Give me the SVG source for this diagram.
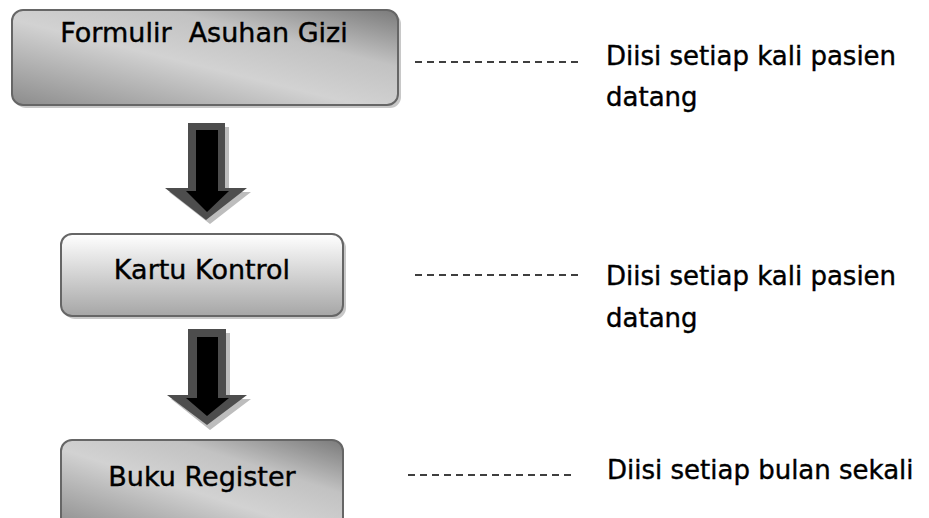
<svg xmlns="http://www.w3.org/2000/svg" width="929" height="518" viewBox="0 0 929 518">
<defs>
<linearGradient id="g1" x1="0" y1="1" x2="1" y2="0">
<stop offset="0" stop-color="#8c8c8c"/>
<stop offset="0.45" stop-color="#d2d2d2"/>
<stop offset="0.7" stop-color="#c2c2c2"/>
<stop offset="1" stop-color="#7a7a7a"/>
</linearGradient>
<linearGradient id="g2" x1="0" y1="0" x2="0" y2="1">
<stop offset="0" stop-color="#ffffff"/>
<stop offset="1" stop-color="#a6a6a6"/>
</linearGradient>
<style>
.box{stroke:#666;stroke-width:2}
.sh{fill:#c8c8c8}
.lbl{font-family:"DejaVu Sans","Noto Sans",sans-serif;font-size:27px;fill:#000;stroke:#000;stroke-width:0.4;text-anchor:middle}
.note{font-family:"DejaVu Sans","Noto Sans",sans-serif;font-size:26px;fill:#000;stroke:#000;stroke-width:0.4}
.dash{stroke:#000;stroke-width:1.3;stroke-dasharray:7 5;fill:none}
.arO{fill:#4d4d4d}
.arI{fill:#000}
.arS{fill:#bdbdbd}
</style>
</defs>
<g id="connectors">
<g id="arrow1">
<polygon class="arS" points="192,127 229,127 229,192 251,192 210,224 169,192 192,192"/>
<polygon class="arO" points="188,123 225,123 225,188 247,188 206,220 165,188 188,188"/>
<polygon class="arI" points="196,130 218,130 218,191 229,191 207,212 186,191 196,191"/>
</g>
<g id="arrow2">
<polygon class="arS" points="192,333 230,333 230,399 251,399 210,430 171,399 192,399"/>
<polygon class="arO" points="188,329 226,329 226,395 247,395 207,425 167,395 188,395"/>
<polygon class="arI" points="197,337 218,337 218,398 229,398 207,416 186,398 197,398"/>
</g>
<line class="dash" x1="415" y1="62" x2="582" y2="62"/>
<line class="dash" x1="415" y1="275" x2="582" y2="275"/>
<line class="dash" x1="408" y1="475" x2="576" y2="475"/>
</g>
<g id="node1">
<rect class="sh" x="15" y="13" width="386" height="95" rx="11"/>
<rect class="box" x="12" y="10" width="386" height="95" rx="11" fill="url(#g1)"/>
<text class="lbl" x="204" y="42" xml:space="preserve">Formulir  Asuhan Gizi</text>
</g>
<g id="node2">
<rect class="sh" x="64" y="237" width="282" height="82" rx="11"/>
<rect class="box" x="61" y="234" width="282" height="82" rx="11" fill="url(#g2)"/>
<text class="lbl" x="202" y="279">Kartu Kontrol</text>
</g>
<g id="node3">
<rect class="box" x="61" y="440" width="282" height="90" rx="11" fill="url(#g1)"/>
<text class="lbl" x="202" y="486">Buku Register</text>
</g>
<g id="note1">
<text class="note" x="606" y="65">Diisi setiap kali pasien</text>
<text class="note" x="606" y="106">datang</text>
</g>
<g id="note2">
<text class="note" x="606" y="285">Diisi setiap kali pasien</text>
<text class="note" x="606" y="327">datang</text>
</g>
<g id="note3">
<text class="note" x="607" y="479">Diisi setiap bulan sekali</text>
</g>
</svg>
